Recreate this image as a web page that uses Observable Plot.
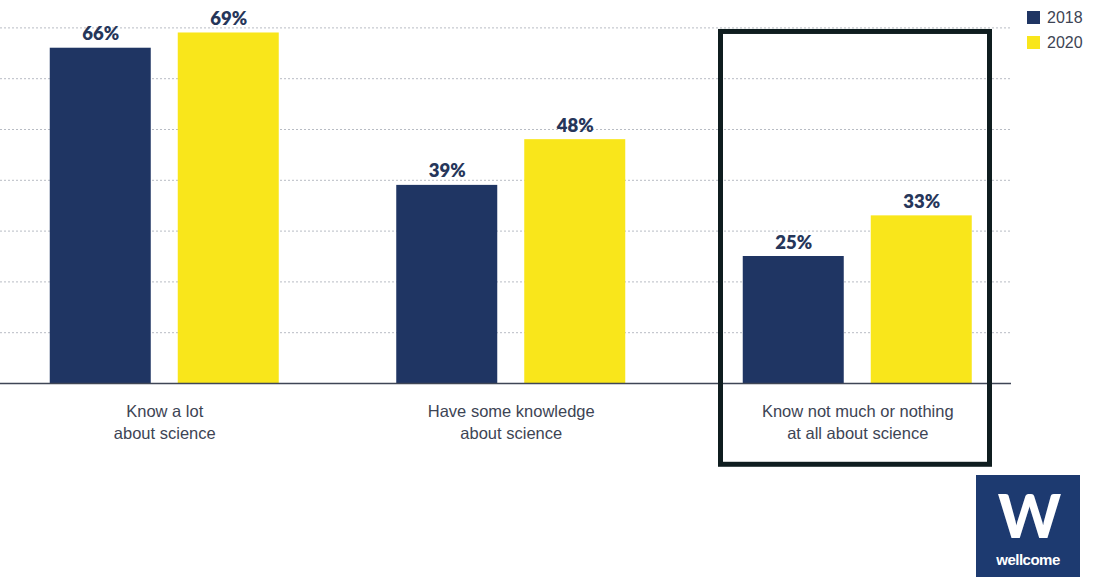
<!DOCTYPE html>
<html>
<head>
<meta charset="utf-8">
<script src="https://cdn.jsdelivr.net/npm/d3@7"></script>
<script src="https://cdn.jsdelivr.net/npm/@observablehq/plot@0.6"></script>
<style>
  html, body { margin: 0; padding: 0; background: #fff; }
  #wrap { position: relative; width: 1101px; height: 577px; overflow: hidden; }
  #chart svg { display: block; }
  .legend { position: absolute; left: 1027px; top: 5px; font-family: "Liberation Sans", Arial, sans-serif; font-size: 16px; color: #3d4454; }
  .legend .item { display: flex; align-items: center; height: 25px; }
  .legend .sw { width: 13px; height: 13px; margin-right: 7px; }
  .logo { position: absolute; left: 976px; top: 475px; width: 104px; height: 102px; background: #1d3a70; color: #fff; font-family: "Liberation Sans", Arial, sans-serif; text-align: center; }
  .logo .w { font-family: "Lato", "DejaVu Sans", sans-serif; font-weight: 900; font-size: 60px; line-height: 56px; height: 56px; margin-top: 12px; letter-spacing: -3px; }
  .logo .name { font-weight: 700; font-size: 15px; line-height: 17px; letter-spacing: -0.5px; margin-top: 8px; }
</style>
</head>
<body>
<div id="wrap">
  <div id="chart"></div>
  <div class="legend" id="legend"></div>
  <div class="logo"><div class="w">W</div><div class="name">wellcome</div></div>
</div>
<script>
const categories = [
  "Know a lot\nabout science",
  "Have some knowledge\nabout science",
  "Know not much or nothing\nat all about science"
];
const years = ["2018", "2020"];
const values2018 = [66, 39, 25];
const values2020 = [69, 48, 33];
const gridTicks = [10, 20, 30, 40, 50, 60, 70];
const highlightCategory = categories[2];
const highlightSpan = [-16.0, 69.2];
const colors = {"2018": "#1f3563", "2020": "#f9e61b"};

const data = [];
categories.forEach((c, i) => {
  data.push({category: c, year: "2018", value: values2018[i]});
  data.push({category: c, year: "2020", value: values2020[i]});
});

const offset = {"2018": -64, "2020": 64};
const inset = 122.75;

const barMarks = years.flatMap(yr => [
  Plot.barY(data.filter(d => d.year === yr), {
    x: "category", y: "value", fill: colors[yr],
    dx: offset[yr], insetLeft: inset, insetRight: inset
  }),
  Plot.text(data.filter(d => d.year === yr), {
    x: "category", y: "value", text: d => d.value + "%",
    dx: offset[yr], dy: -8, lineAnchor: "bottom",
    fill: "#26365a", fontSize: 18.5, fontWeight: 800,
    fontFamily: "Lato, 'Noto Sans', sans-serif"
  })
]);

const chart = Plot.plot({
  width: 1101,
  height: 577,
  marginLeft: 0,
  marginRight: 90,
  marginTop: 27.4,
  marginBottom: 194,
  style: {background: "transparent"},
  x: {domain: categories, range: [-9, 1030.5], padding: 0, round: false},
  y: {domain: [0, 70]},
  marks: [
    Plot.ruleY(gridTicks, {stroke: "#b8bcc4", strokeWidth: 1, strokeDasharray: "2,2"}),
    ...barMarks,
    Plot.ruleY([0], {stroke: "#3f4656", strokeWidth: 1.6}),
    Plot.barY([highlightCategory], {
      x: d => d, y1: highlightSpan[0], y2: highlightSpan[1],
      fill: "none", stroke: "#0f1d1f", strokeWidth: 5,
      insetLeft: 36.5, insetRight: 41
    }),
    Plot.axisX({
      tickSize: 0, tickPadding: 18, label: null,
      fontSize: 16.5, lineHeight: 1.33,
      fill: "#3d4454",
      fontFamily: "'Liberation Sans', Arial, sans-serif"
    }),
    Plot.axisY({ticks: [], label: null})
  ]
});
document.getElementById("chart").appendChild(chart);

const legend = document.getElementById("legend");
years.forEach(yr => {
  const item = document.createElement("div");
  item.className = "item";
  const sw = document.createElement("div");
  sw.className = "sw";
  sw.style.background = colors[yr];
  const t = document.createElement("span");
  t.textContent = yr;
  item.appendChild(sw);
  item.appendChild(t);
  legend.appendChild(item);
});
</script>
</body>
</html>
